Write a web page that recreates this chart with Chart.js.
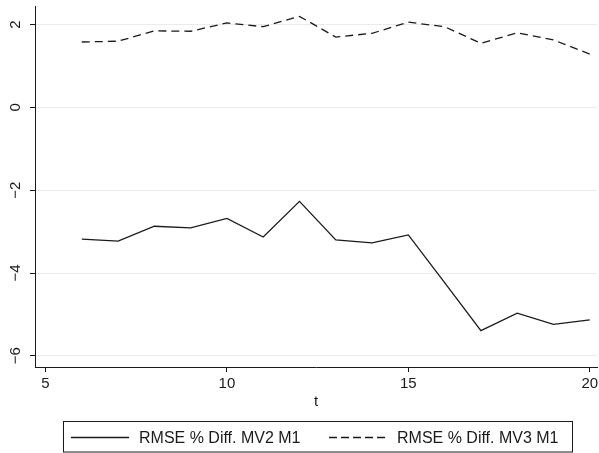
<!DOCTYPE html>
<html>
<head>
<meta charset="utf-8">
<script src="https://cdn.jsdelivr.net/npm/chart.js@4.4.1/dist/chart.umd.min.js"></script>
<style>
  html, body { margin: 0; padding: 0; background: #fff; }
  #wrap { width: 599px; height: 453px; }
</style>
</head>
<body>
<div id="wrap"><canvas id="rmse"></canvas></div>
<script>
// forecast horizon and RMSE % differences against M1
const periods = [6, 7, 8, 9, 10, 11, 12, 13, 14, 15, 16, 17, 18, 19, 20];
const diffMV2 = [-3.18, -3.23, -2.87, -2.91, -2.68, -3.13, -2.27, -3.20, -3.27, -3.08, -4.23, -5.39, -4.97, -5.24, -5.13];
const diffMV3 = [1.58, 1.60, 1.85, 1.84, 2.04, 1.95, 2.20, 1.70, 1.79, 2.06, 1.95, 1.55, 1.80, 1.63, 1.29];
const xTicks = [5, 10, 15, 20];
const yTicks = [-6, -4, -2, 0, 2];

const FONT = 'Liberation Sans, Arial, Helvetica, sans-serif';
const INK = '#1a1a1a';

const toPoints = (ys) => periods.map((t, i) => ({ x: t, y: ys[i] }));

// boxed legend under the x axis title, built from the datasets
const boxedLegend = {
    id: 'boxedLegend',
    afterDraw(chart) {
        const { ctx } = chart;
        const box = { left: 63.5, top: 421.5, right: 572.5, bottom: 452 };
        const midY = 437.5;
        const items = [
            { x1: 71, x2: 129, textX: 139 },
            { x1: 329, x2: 389, textX: 397, dash: [8, 4] }
        ];
        ctx.save();
        ctx.strokeStyle = INK;
        ctx.lineWidth = 1;
        ctx.strokeRect(box.left, box.top, box.right - box.left, box.bottom - box.top);
        chart.data.datasets.forEach((ds, i) => {
            const it = items[i];
            ctx.beginPath();
            ctx.setLineDash(ds.borderDash ? it.dash : []);
            ctx.lineWidth = ds.borderWidth;
            ctx.strokeStyle = ds.borderColor;
            ctx.moveTo(it.x1, midY);
            ctx.lineTo(it.x2, midY);
            ctx.stroke();
            ctx.setLineDash([]);
            ctx.fillStyle = INK;
            ctx.font = '16px ' + FONT;
            ctx.textBaseline = 'middle';
            ctx.textAlign = 'left';
            ctx.fillText(ds.label, it.textX, midY + 1);
        });
        ctx.restore();
    }
};

new Chart(document.getElementById('rmse'), {
    type: 'line',
    data: {
        datasets: [
            {
                label: 'RMSE % Diff. MV2 M1',
                data: toPoints(diffMV2),
                borderColor: INK,
                borderWidth: 1.3,
                pointRadius: 0,
                tension: 0
            },
            {
                label: 'RMSE % Diff. MV3 M1',
                data: toPoints(diffMV3),
                borderColor: INK,
                borderWidth: 1.3,
                borderDash: [8, 5],
                pointRadius: 0,
                tension: 0
            }
        ]
    },
    options: {
        responsive: true,
        maintainAspectRatio: false,
        animation: false,
        layout: { padding: { top: 6, right: 2, left: 0, bottom: 0 } },
        plugins: {
            legend: { display: false },
            tooltip: { enabled: false }
        },
        scales: {
            x: {
                type: 'linear',
                min: 4.71,
                max: 20.2,
                afterBuildTicks: (scale) => { scale.ticks = xTicks.map(v => ({ value: v })); },
                afterFit: (scale) => {
                    scale.height = 86;
                    scale.paddingLeft = 0;
                    scale.paddingRight = 0;
                },
                grid: {
                    drawOnChartArea: false,
                    drawTicks: true,
                    tickLength: 5,
                    tickColor: INK
                },
                border: { display: true, color: INK, width: 1 },
                ticks: {
                    color: INK,
                    font: { family: FONT, size: 15 },
                    padding: 3,
                    maxRotation: 0
                },
                title: {
                    display: true,
                    text: 't',
                    color: INK,
                    font: { family: FONT, size: 15 },
                    padding: { top: 0, bottom: 42 }
                }
            },
            y: {
                type: 'linear',
                min: -6.27,
                max: 2.45,
                afterBuildTicks: (scale) => { scale.ticks = yTicks.map(v => ({ value: v })); },
                afterFit: (scale) => {
                    scale.width = 35;
                    scale.paddingTop = 0;
                    scale.paddingBottom = 0;
                },
                grid: {
                    color: '#ebebeb',
                    lineWidth: 1,
                    drawTicks: true,
                    tickLength: 5,
                    tickColor: INK
                },
                border: { display: true, color: INK, width: 1 },
                ticks: {
                    color: INK,
                    font: { family: FONT, size: 15 },
                    padding: 6,
                    crossAlign: 'center',
                    minRotation: 90,
                    maxRotation: 90,
                    callback: (v) => String(v).replace('-', '\u2212')
                }
            }
        }
    },
    plugins: [boxedLegend]
});
</script>
</body>
</html>
